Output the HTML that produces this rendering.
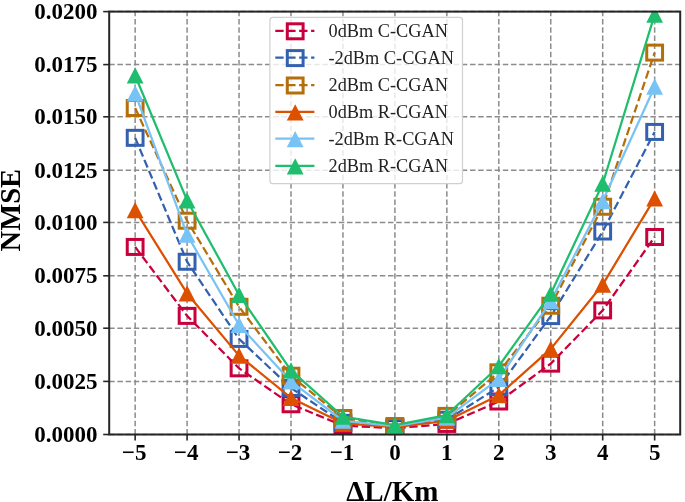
<!DOCTYPE html><html><head><meta charset="utf-8"><style>html,body{margin:0;padding:0;background:#fff;}svg{display:block;filter:blur(0.45px);}text{font-family:"Liberation Serif",serif;}</style></head><body>
<svg width="685" height="502" viewBox="0 0 685 502">
<rect width="685" height="502" fill="#fff"/>
<defs><clipPath id="ax"><rect x="109.2" y="11.6" width="571.0" height="422.9"/></clipPath></defs>
<g stroke="#8c8c8c" stroke-width="1.5" stroke-dasharray="5.5 2.7" fill="none"><line x1="135.15" y1="434.5" x2="135.15" y2="11.6" /><line x1="187.10" y1="434.5" x2="187.10" y2="11.6" /><line x1="239.05" y1="434.5" x2="239.05" y2="11.6" /><line x1="291.00" y1="434.5" x2="291.00" y2="11.6" /><line x1="342.95" y1="434.5" x2="342.95" y2="11.6" /><line x1="394.90" y1="434.5" x2="394.90" y2="11.6" /><line x1="446.85" y1="434.5" x2="446.85" y2="11.6" /><line x1="498.80" y1="434.5" x2="498.80" y2="11.6" /><line x1="550.75" y1="434.5" x2="550.75" y2="11.6" /><line x1="602.70" y1="434.5" x2="602.70" y2="11.6" /><line x1="654.65" y1="434.5" x2="654.65" y2="11.6" /><line x1="109.2" y1="434.50" x2="680.2" y2="434.50" /><line x1="109.2" y1="381.40" x2="680.2" y2="381.40" /><line x1="109.2" y1="328.20" x2="680.2" y2="328.20" /><line x1="109.2" y1="275.80" x2="680.2" y2="275.80" /><line x1="109.2" y1="222.40" x2="680.2" y2="222.40" /><line x1="109.2" y1="170.20" x2="680.2" y2="170.20" /><line x1="109.2" y1="116.80" x2="680.2" y2="116.80" /><line x1="109.2" y1="64.60" x2="680.2" y2="64.60" /><line x1="109.2" y1="11.60" x2="680.2" y2="11.60" /></g>
<g clip-path="url(#ax)">
<polyline points="135.15,246.94 187.10,315.88 239.05,368.32 291.00,404.26 342.95,425.62 394.90,428.16 446.85,423.93 498.80,401.51 550.75,363.66 602.70,310.38 654.65,237.01" fill="none" stroke="#C8003C" stroke-width="2.25" stroke-dasharray="8.33 3.60" stroke-linejoin="round"/>
<rect x="127.25" y="239.44" width="15.80" height="15.00" fill="none" stroke="#C8003C" stroke-width="3.0"/>
<rect x="179.20" y="308.38" width="15.80" height="15.00" fill="none" stroke="#C8003C" stroke-width="3.0"/>
<rect x="231.15" y="360.82" width="15.80" height="15.00" fill="none" stroke="#C8003C" stroke-width="3.0"/>
<rect x="283.10" y="396.76" width="15.80" height="15.00" fill="none" stroke="#C8003C" stroke-width="3.0"/>
<rect x="335.05" y="418.12" width="15.80" height="15.00" fill="none" stroke="#C8003C" stroke-width="3.0"/>
<rect x="387.00" y="420.66" width="15.80" height="15.00" fill="none" stroke="#C8003C" stroke-width="3.0"/>
<rect x="438.95" y="416.43" width="15.80" height="15.00" fill="none" stroke="#C8003C" stroke-width="3.0"/>
<rect x="490.90" y="394.01" width="15.80" height="15.00" fill="none" stroke="#C8003C" stroke-width="3.0"/>
<rect x="542.85" y="356.16" width="15.80" height="15.00" fill="none" stroke="#C8003C" stroke-width="3.0"/>
<rect x="594.80" y="302.88" width="15.80" height="15.00" fill="none" stroke="#C8003C" stroke-width="3.0"/>
<rect x="646.75" y="229.51" width="15.80" height="15.00" fill="none" stroke="#C8003C" stroke-width="3.0"/>
<polyline points="135.15,137.84 187.10,261.75 239.05,338.92 291.00,387.98 342.95,422.87 394.90,427.10 446.85,419.70 498.80,387.14 550.75,316.09 602.70,231.51 654.65,131.92" fill="none" stroke="#3361B0" stroke-width="2.25" stroke-dasharray="8.33 3.60" stroke-linejoin="round"/>
<rect x="127.25" y="130.34" width="15.80" height="15.00" fill="none" stroke="#3361B0" stroke-width="3.0"/>
<rect x="179.20" y="254.25" width="15.80" height="15.00" fill="none" stroke="#3361B0" stroke-width="3.0"/>
<rect x="231.15" y="331.42" width="15.80" height="15.00" fill="none" stroke="#3361B0" stroke-width="3.0"/>
<rect x="283.10" y="380.48" width="15.80" height="15.00" fill="none" stroke="#3361B0" stroke-width="3.0"/>
<rect x="335.05" y="415.37" width="15.80" height="15.00" fill="none" stroke="#3361B0" stroke-width="3.0"/>
<rect x="387.00" y="419.60" width="15.80" height="15.00" fill="none" stroke="#3361B0" stroke-width="3.0"/>
<rect x="438.95" y="412.20" width="15.80" height="15.00" fill="none" stroke="#3361B0" stroke-width="3.0"/>
<rect x="490.90" y="379.64" width="15.80" height="15.00" fill="none" stroke="#3361B0" stroke-width="3.0"/>
<rect x="542.85" y="308.59" width="15.80" height="15.00" fill="none" stroke="#3361B0" stroke-width="3.0"/>
<rect x="594.80" y="224.01" width="15.80" height="15.00" fill="none" stroke="#3361B0" stroke-width="3.0"/>
<rect x="646.75" y="124.42" width="15.80" height="15.00" fill="none" stroke="#3361B0" stroke-width="3.0"/>
<polyline points="135.15,108.02 187.10,220.72 239.05,306.78 291.00,375.72 342.95,418.01 394.90,426.04 446.85,415.89 498.80,372.33 550.75,305.73 602.70,206.77 654.65,52.62" fill="none" stroke="#B46E0A" stroke-width="2.25" stroke-dasharray="8.33 3.60" stroke-linejoin="round"/>
<rect x="127.25" y="100.52" width="15.80" height="15.00" fill="none" stroke="#B46E0A" stroke-width="3.0"/>
<rect x="179.20" y="213.22" width="15.80" height="15.00" fill="none" stroke="#B46E0A" stroke-width="3.0"/>
<rect x="231.15" y="299.28" width="15.80" height="15.00" fill="none" stroke="#B46E0A" stroke-width="3.0"/>
<rect x="283.10" y="368.22" width="15.80" height="15.00" fill="none" stroke="#B46E0A" stroke-width="3.0"/>
<rect x="335.05" y="410.51" width="15.80" height="15.00" fill="none" stroke="#B46E0A" stroke-width="3.0"/>
<rect x="387.00" y="418.54" width="15.80" height="15.00" fill="none" stroke="#B46E0A" stroke-width="3.0"/>
<rect x="438.95" y="408.39" width="15.80" height="15.00" fill="none" stroke="#B46E0A" stroke-width="3.0"/>
<rect x="490.90" y="364.83" width="15.80" height="15.00" fill="none" stroke="#B46E0A" stroke-width="3.0"/>
<rect x="542.85" y="298.23" width="15.80" height="15.00" fill="none" stroke="#B46E0A" stroke-width="3.0"/>
<rect x="594.80" y="199.27" width="15.80" height="15.00" fill="none" stroke="#B46E0A" stroke-width="3.0"/>
<rect x="646.75" y="45.12" width="15.80" height="15.00" fill="none" stroke="#B46E0A" stroke-width="3.0"/>
<polyline points="135.15,210.15 187.10,293.46 239.05,355.63 291.00,397.92 342.95,423.29 394.90,427.10 446.85,420.76 498.80,395.17 550.75,348.86 602.70,284.58 654.65,198.31" fill="none" stroke="#DC5000" stroke-width="2.25" stroke-linejoin="round"/>
<path d="M135.15 202.05L143.55 218.25L126.75 218.25Z" fill="#DC5000"/>
<path d="M187.10 285.36L195.50 301.56L178.70 301.56Z" fill="#DC5000"/>
<path d="M239.05 347.53L247.45 363.73L230.65 363.73Z" fill="#DC5000"/>
<path d="M291.00 389.82L299.40 406.02L282.60 406.02Z" fill="#DC5000"/>
<path d="M342.95 415.19L351.35 431.39L334.55 431.39Z" fill="#DC5000"/>
<path d="M394.90 419.00L403.30 435.20L386.50 435.20Z" fill="#DC5000"/>
<path d="M446.85 412.66L455.25 428.86L438.45 428.86Z" fill="#DC5000"/>
<path d="M498.80 387.07L507.20 403.27L490.40 403.27Z" fill="#DC5000"/>
<path d="M550.75 340.76L559.15 356.96L542.35 356.96Z" fill="#DC5000"/>
<path d="M602.70 276.48L611.10 292.68L594.30 292.68Z" fill="#DC5000"/>
<path d="M654.65 190.21L663.05 206.41L646.25 206.41Z" fill="#DC5000"/>
<polyline points="135.15,93.43 187.10,234.68 239.05,324.97 291.00,381.43 342.95,420.76 394.90,426.04 446.85,417.58 498.80,378.89 550.75,301.08 602.70,201.06 654.65,86.66" fill="none" stroke="#78C3F5" stroke-width="2.25" stroke-linejoin="round"/>
<path d="M135.15 85.33L143.55 101.53L126.75 101.53Z" fill="#78C3F5"/>
<path d="M187.10 226.58L195.50 242.78L178.70 242.78Z" fill="#78C3F5"/>
<path d="M239.05 316.87L247.45 333.07L230.65 333.07Z" fill="#78C3F5"/>
<path d="M291.00 373.33L299.40 389.53L282.60 389.53Z" fill="#78C3F5"/>
<path d="M342.95 412.66L351.35 428.86L334.55 428.86Z" fill="#78C3F5"/>
<path d="M394.90 417.94L403.30 434.14L386.50 434.14Z" fill="#78C3F5"/>
<path d="M446.85 409.48L455.25 425.68L438.45 425.68Z" fill="#78C3F5"/>
<path d="M498.80 370.79L507.20 386.99L490.40 386.99Z" fill="#78C3F5"/>
<path d="M550.75 292.98L559.15 309.18L542.35 309.18Z" fill="#78C3F5"/>
<path d="M602.70 192.96L611.10 209.16L594.30 209.16Z" fill="#78C3F5"/>
<path d="M654.65 78.56L663.05 94.76L646.25 94.76Z" fill="#78C3F5"/>
<polyline points="135.15,75.46 187.10,200.42 239.05,294.94 291.00,370.43 342.95,416.53 394.90,425.20 446.85,415.05 498.80,366.20 550.75,293.67 602.70,183.72 654.65,14.56" fill="none" stroke="#1EBE6E" stroke-width="2.25" stroke-linejoin="round"/>
<path d="M135.15 67.36L143.55 83.56L126.75 83.56Z" fill="#1EBE6E"/>
<path d="M187.10 192.32L195.50 208.52L178.70 208.52Z" fill="#1EBE6E"/>
<path d="M239.05 286.84L247.45 303.04L230.65 303.04Z" fill="#1EBE6E"/>
<path d="M291.00 362.33L299.40 378.53L282.60 378.53Z" fill="#1EBE6E"/>
<path d="M342.95 408.43L351.35 424.63L334.55 424.63Z" fill="#1EBE6E"/>
<path d="M394.90 417.10L403.30 433.30L386.50 433.30Z" fill="#1EBE6E"/>
<path d="M446.85 406.95L455.25 423.15L438.45 423.15Z" fill="#1EBE6E"/>
<path d="M498.80 358.10L507.20 374.30L490.40 374.30Z" fill="#1EBE6E"/>
<path d="M550.75 285.57L559.15 301.77L542.35 301.77Z" fill="#1EBE6E"/>
<path d="M602.70 175.62L611.10 191.82L594.30 191.82Z" fill="#1EBE6E"/>
<path d="M654.65 6.46L663.05 22.66L646.25 22.66Z" fill="#1EBE6E"/>
</g>
<rect x="109.2" y="11.6" width="571.0" height="422.9" fill="none" stroke="#262626" stroke-width="2"/><line x1="135.15" y1="434.5" x2="135.15" y2="440.5" stroke="#262626" stroke-width="1.6"/><line x1="187.10" y1="434.5" x2="187.10" y2="440.5" stroke="#262626" stroke-width="1.6"/><line x1="239.05" y1="434.5" x2="239.05" y2="440.5" stroke="#262626" stroke-width="1.6"/><line x1="291.00" y1="434.5" x2="291.00" y2="440.5" stroke="#262626" stroke-width="1.6"/><line x1="342.95" y1="434.5" x2="342.95" y2="440.5" stroke="#262626" stroke-width="1.6"/><line x1="394.90" y1="434.5" x2="394.90" y2="440.5" stroke="#262626" stroke-width="1.6"/><line x1="446.85" y1="434.5" x2="446.85" y2="440.5" stroke="#262626" stroke-width="1.6"/><line x1="498.80" y1="434.5" x2="498.80" y2="440.5" stroke="#262626" stroke-width="1.6"/><line x1="550.75" y1="434.5" x2="550.75" y2="440.5" stroke="#262626" stroke-width="1.6"/><line x1="602.70" y1="434.5" x2="602.70" y2="440.5" stroke="#262626" stroke-width="1.6"/><line x1="654.65" y1="434.5" x2="654.65" y2="440.5" stroke="#262626" stroke-width="1.6"/><line x1="109.2" y1="434.50" x2="103.2" y2="434.50" stroke="#262626" stroke-width="1.6"/><line x1="109.2" y1="381.40" x2="103.2" y2="381.40" stroke="#262626" stroke-width="1.6"/><line x1="109.2" y1="328.20" x2="103.2" y2="328.20" stroke="#262626" stroke-width="1.6"/><line x1="109.2" y1="275.80" x2="103.2" y2="275.80" stroke="#262626" stroke-width="1.6"/><line x1="109.2" y1="222.40" x2="103.2" y2="222.40" stroke="#262626" stroke-width="1.6"/><line x1="109.2" y1="170.20" x2="103.2" y2="170.20" stroke="#262626" stroke-width="1.6"/><line x1="109.2" y1="116.80" x2="103.2" y2="116.80" stroke="#262626" stroke-width="1.6"/><line x1="109.2" y1="64.60" x2="103.2" y2="64.60" stroke="#262626" stroke-width="1.6"/><line x1="109.2" y1="11.60" x2="103.2" y2="11.60" stroke="#262626" stroke-width="1.6"/>
<g font-size="23" font-weight="bold" fill="#000"><text x="97.5" y="441.80" text-anchor="end">0.0000</text><text x="97.5" y="388.70" text-anchor="end">0.0025</text><text x="97.5" y="335.50" text-anchor="end">0.0050</text><text x="97.5" y="283.10" text-anchor="end">0.0075</text><text x="97.5" y="229.70" text-anchor="end">0.0100</text><text x="97.5" y="177.50" text-anchor="end">0.0125</text><text x="97.5" y="124.10" text-anchor="end">0.0150</text><text x="97.5" y="71.90" text-anchor="end">0.0175</text><text x="97.5" y="18.90" text-anchor="end">0.0200</text><text x="134.15" y="459.5" text-anchor="middle">−5</text><text x="186.10" y="459.5" text-anchor="middle">−4</text><text x="238.05" y="459.5" text-anchor="middle">−3</text><text x="290.00" y="459.5" text-anchor="middle">−2</text><text x="341.95" y="459.5" text-anchor="middle">−1</text><text x="394.90" y="459.5" text-anchor="middle">0</text><text x="446.85" y="459.5" text-anchor="middle">1</text><text x="498.80" y="459.5" text-anchor="middle">2</text><text x="550.75" y="459.5" text-anchor="middle">3</text><text x="602.70" y="459.5" text-anchor="middle">4</text><text x="654.65" y="459.5" text-anchor="middle">5</text></g>
<text x="392.3" y="501.2" text-anchor="middle" font-size="29" font-weight="bold">ΔL/Km</text>
<text transform="translate(20.2,210.2) rotate(-90)" text-anchor="middle" font-size="28.6" font-weight="bold">NMSE</text>
<rect x="269.9" y="17.4" width="192.6" height="166.3" rx="3" fill="#fff" fill-opacity="0.8" stroke="#d0d0d0" stroke-width="1.2"/>
<line x1="275.3" y1="30.80" x2="314.4" y2="30.80" stroke="#C8003C" stroke-width="2.25" stroke-dasharray="8.33 3.60"/>
<rect x="287.30" y="23.80" width="15.80" height="15.00" fill="none" stroke="#C8003C" stroke-width="3.0"/>
<text x="328.5" y="36.90" font-size="18.3" fill="#222">0dBm C-CGAN</text>
<line x1="275.3" y1="57.60" x2="314.4" y2="57.60" stroke="#3361B0" stroke-width="2.25" stroke-dasharray="8.33 3.60"/>
<rect x="287.30" y="50.60" width="15.80" height="15.00" fill="none" stroke="#3361B0" stroke-width="3.0"/>
<text x="328.5" y="63.82" font-size="18.3" fill="#222">-2dBm C-CGAN</text>
<line x1="275.3" y1="85.00" x2="314.4" y2="85.00" stroke="#B46E0A" stroke-width="2.25" stroke-dasharray="8.33 3.60"/>
<rect x="287.30" y="78.00" width="15.80" height="15.00" fill="none" stroke="#B46E0A" stroke-width="3.0"/>
<text x="328.5" y="90.74" font-size="18.3" fill="#222">2dBm C-CGAN</text>
<line x1="275.3" y1="111.90" x2="314.4" y2="111.90" stroke="#DC5000" stroke-width="2.25"/>
<path d="M295.20 104.30L303.60 120.50L286.80 120.50Z" fill="#DC5000"/>
<text x="328.5" y="117.66" font-size="18.3" fill="#222">0dBm R-CGAN</text>
<line x1="275.3" y1="138.60" x2="314.4" y2="138.60" stroke="#78C3F5" stroke-width="2.25"/>
<path d="M295.20 131.00L303.60 147.20L286.80 147.20Z" fill="#78C3F5"/>
<text x="328.5" y="144.58" font-size="18.3" fill="#222">-2dBm R-CGAN</text>
<line x1="275.3" y1="165.90" x2="314.4" y2="165.90" stroke="#1EBE6E" stroke-width="2.25"/>
<path d="M295.20 158.30L303.60 174.50L286.80 174.50Z" fill="#1EBE6E"/>
<text x="328.5" y="171.50" font-size="18.3" fill="#222">2dBm R-CGAN</text>
</svg></body></html>
